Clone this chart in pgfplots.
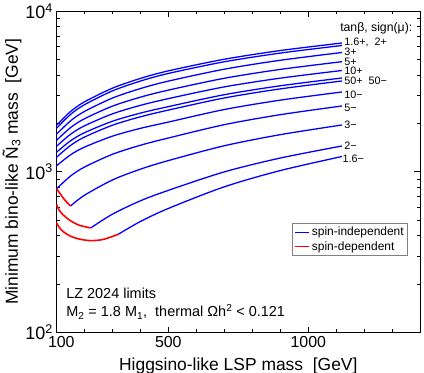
\documentclass[border=0pt]{standalone}
\usepackage{fontspec}
\setmainfont{Liberation Sans}
\usepackage{pgfplots}
\pgfplotsset{compat=1.18}

\definecolor{siblue}{RGB}{0,0,255}
\definecolor{sdred}{RGB}{255,0,0}

\begin{document}
\begin{tikzpicture}
\begin{axis}[
  name=ax,
  scale only axis, width=364bp, height=321.5bp,
  xmin=100, xmax=1400, ymin=100, ymax=10000, ymode=log,
  xtick={100,500,1000}, xticklabels={\hspace*{10bp}100,500,1000},
  minor xtick={200,300,400,600,700,800,900,1100,1200,1300},
  ytick={100,1000,10000},
  yticklabels={10\textsuperscript{2},10\textsuperscript{3},10\textsuperscript{4}},
  minor ytick={200,300,400,500,600,700,800,900,2000,3000,4000,5000,6000,7000,8000,9000},
  tick align=inside, major tick length=6bp, minor tick length=3.5bp,
  tick style={black, line width=0.6pt},
  axis line style={line width=0.9pt},
  xticklabel style={font=\fontsize{16}{16}\selectfont},
  yticklabel style={font=\fontsize{18}{18}\selectfont},
  xlabel={Higgsino-like LSP mass\ \ [GeV]},
  ylabel={Minimum bino-like Ñ\textsubscript{3} mass\ \ [GeV]},
  xlabel shift=4bp, ylabel shift=-3bp,
  label style={font=\fontsize{17.5}{17.5}\selectfont},
  legend style={at={(0.966,0.3406)}, anchor=north east, draw=gray, line width=0.5pt,
                font=\fontsize{12}{13}\selectfont, inner sep=2pt, cells={anchor=west}},
  legend image code/.code={\draw[#1] (0bp,0bp) -- (14bp,0bp);},
]
\addlegendimage{siblue, line width=1.3pt}
\addlegendentry{spin-independent}
\addlegendimage{sdred, line width=1.6pt}
\addlegendentry{spin-dependent}

% spin-independent limits, tan beta / sign(mu)
% 1.6+
\addplot[siblue, line width=1.3pt, smooth, forget plot] coordinates {
  (100,1940) (150,2362) (200,2718) (300,3308) (400,3805) (500,4242) (700,5010) (900,5675) (1120,6323)};
% 2+
\addplot[siblue, line width=1.3pt, smooth, forget plot] coordinates {
  (100,1858) (150,2266) (200,2609) (300,3182) (400,3664) (500,4087) (700,4831) (900,5472) (1120,6100)};
% 3+
\addplot[siblue, line width=1.3pt, smooth, forget plot] coordinates {
  (100,1705) (150,2067) (200,2369) (300,2871) (400,3291) (500,3662) (700,4345) (900,4937) (1120,5519)};
% 5+
\addplot[siblue, line width=1.3pt, smooth, forget plot] coordinates {
  (100,1564) (150,1876) (200,2134) (300,2557) (400,2909) (500,3219) (700,3815) (900,4332) (1120,4837)};
% 10+
\addplot[siblue, line width=1.3pt, smooth, forget plot] coordinates {
  (100,1436) (150,1706) (200,1928) (300,2290) (400,2587) (500,2850) (700,3372) (900,3822) (1120,4265)};
% 50+
\addplot[siblue, line width=1.3pt, smooth, forget plot] coordinates {
  (100,1318) (150,1554) (200,1747) (300,2060) (400,2315) (500,2541) (700,3015) (900,3426) (1120,3830)};
% 50-
\addplot[siblue, line width=1.3pt, smooth, forget plot] coordinates {
  (100,1227) (150,1454) (200,1641) (300,1946) (400,2196) (500,2418) (700,2877) (900,3277) (1120,3669)};
% 10-
\addplot[siblue, line width=1.3pt, smooth, forget plot] coordinates {
  (100,1086) (150,1271) (200,1421) (300,1664) (400,1861) (500,2037) (700,2438) (900,2789) (1120,3134)};
% 5-
\addplot[siblue, line width=1.3pt, smooth, forget plot] coordinates {
  (100,781) (150,938) (200,1068) (300,1283) (400,1461) (500,1621) (700,1963) (900,2265) (1120,2565)};
% 3-
\addplot[siblue, line width=1.3pt, smooth, forget plot] coordinates {
  (151,612) (200,713) (300,888) (400,1037) (500,1173) (700,1451) (900,1701) (1120,1954)};
% 2-
\addplot[siblue, line width=1.3pt, smooth, forget plot] coordinates {
  (223,447) (300,544) (400,659) (500,766) (700,998) (900,1217) (1120,1446)};
% 1.6-
\addplot[siblue, line width=1.3pt, smooth, forget plot] coordinates {
  (321,408) (400,490) (500,591) (700,806) (900,1017) (1120,1244)};

% spin-dependent limits
\addplot[sdred, line width=1.6pt, smooth, forget plot] coordinates {
  (100,790) (115,725) (130,668) (151,612)};
\addplot[sdred, line width=1.6pt, smooth, forget plot] coordinates {
  (100,630) (110,578) (125,538) (150,497) (180,466) (223,447)};
\addplot[sdred, line width=1.6pt, smooth, forget plot] coordinates {
  (100,485) (110,452) (125,424) (150,398) (180,382) (220,373) (260,377) (290,390) (321,408)};

\begin{scope}[every node/.style={anchor=west, inner sep=0pt, font=\fontsize{10.8}{12}\selectfont}]
\node at (axis cs:1128,6350) {1.6+,\ \ 2+};
\node at (axis cs:1128,5560) {3+};
\node at (axis cs:1128,4851) {5+};
\node at (axis cs:1128,4234) {10+};
\node at (axis cs:1128,3686) {50+\ \ 50−};
\node at (axis cs:1128,3002) {10−};
\node at (axis cs:1128,2502) {5−};
\node at (axis cs:1128,1954) {3−};
\node at (axis cs:1128,1446) {2−};
\node at (axis cs:1122,1200) {1.6−};
\end{scope}
\node[anchor=east, inner sep=0pt, font=\fontsize{12.3}{13}\selectfont] at (axis cs:1372,7840) {tanβ, sign(μ):};

\node[anchor=west, inner sep=0pt, font=\fontsize{14.5}{15}\selectfont] at (rel axis cs:0.027,0.123) {LZ 2024 limits};
\node[anchor=west, inner sep=0pt, font=\fontsize{14.5}{15}\selectfont] at (rel axis cs:0.027,0.064)
  {M\textsubscript{2} = 1.8 M\textsubscript{1},\ \ thermal Ωh\textsuperscript{2} < 0.121};
\end{axis}
\pgfresetboundingbox
\path[use as bounding box] ([shift={(-56.3bp,-40.5bp)}]ax.south west) rectangle ([shift={(3.7bp,11bp)}]ax.north east);
\end{tikzpicture}
\end{document}
